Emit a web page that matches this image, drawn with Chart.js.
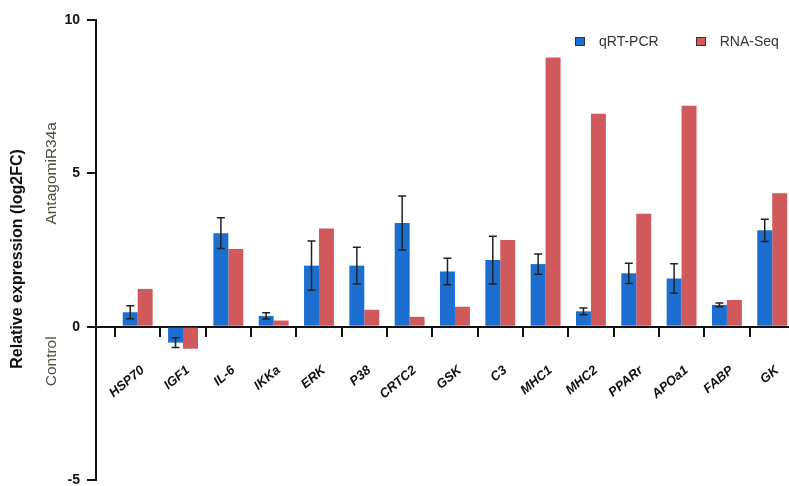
<!DOCTYPE html>
<html>
<head>
<meta charset="utf-8">
<script src="https://cdn.jsdelivr.net/npm/chart.js@4.4.0/dist/chart.umd.min.js"></script>
<style>
  html, body { margin: 0; padding: 0; background: #fff; overflow: hidden; }
  #wrap { position: relative; width: 789px; height: 486px; }
  #legend { position: absolute; top: 33px; left: 575px; display: flex; white-space: nowrap;
            font: 14px 'Liberation Sans', Arial, sans-serif; color: #333; }
  #legend .item { display: flex; align-items: center; margin-right: 37px; }
  #legend .box { width: 8px; height: 7px; border: 1px solid #333; margin-right: 14px; }
</style>
</head>
<body>
<div id="wrap">
  <canvas id="chart"></canvas>
  <div id="legend"></div>
</div>
<script>
var genes = ['HSP70', 'IGF1', 'IL-6', 'IKKa', 'ERK', 'P38', 'CRTC2', 'GSK', 'C3', 'MHC1', 'MHC2', 'PPARr', 'APOa1', 'FABP', 'GK'];
var qpcr = [0.47, -0.52, 3.05, 0.35, 1.99, 1.99, 3.38, 1.80, 2.17, 2.04, 0.50, 1.74, 1.57, 0.71, 3.14];
var qpcrErr = [0.21, 0.16, 0.50, 0.10, 0.80, 0.60, 0.88, 0.43, 0.78, 0.33, 0.11, 0.33, 0.48, 0.06, 0.36];
var rnaSeq = [1.23, -0.72, 2.53, 0.20, 3.20, 0.55, 0.32, 0.65, 2.83, 8.78, 6.94, 3.68, 7.20, 0.87, 4.35];
var yTicks = [-5, 0, 5, 10];

var FONT = "'Liberation Sans', Arial, sans-serif";

// error bars for the qRT-PCR series
var errorBars = {
    id: 'errorBars',
    afterDatasetsDraw: function (chart) {
        var ctx = chart.ctx;
        var y = chart.scales.y;
        var meta = chart.getDatasetMeta(0);
        ctx.save();
        ctx.strokeStyle = '#222';
        ctx.lineWidth = 1.5;
        meta.data.forEach(function (bar, i) {
            var top = y.getPixelForValue(qpcr[i] + qpcrErr[i]);
            var bottom = y.getPixelForValue(qpcr[i] - qpcrErr[i]);
            ctx.beginPath();
            ctx.moveTo(bar.x, top); ctx.lineTo(bar.x, bottom);
            ctx.moveTo(bar.x - 4, top); ctx.lineTo(bar.x + 4, top);
            ctx.moveTo(bar.x - 4, bottom); ctx.lineTo(bar.x + 4, bottom);
            ctx.stroke();
        });
        ctx.restore();
    }
};

// group notes beside the y axis
var sideNotes = {
    id: 'sideNotes',
    afterDraw: function (chart) {
        var ctx = chart.ctx;
        var y = chart.scales.y;
        var notes = [['AntagomiR34a', 5.0], ['Control', -1.13]];
        ctx.save();
        ctx.fillStyle = '#4b5140';
        ctx.font = '15.5px ' + FONT;
        ctx.textAlign = 'center';
        ctx.textBaseline = 'middle';
        notes.forEach(function (n) {
            ctx.save();
            ctx.translate(y.left + 52, y.getPixelForValue(n[1]));
            ctx.rotate(-Math.PI / 2);
            ctx.fillText(n[0], 0, 0);
            ctx.restore();
        });
        ctx.restore();
    }
};

var ctx = document.getElementById('chart').getContext('2d');
var chart = new Chart(ctx, {
    type: 'bar',
    data: {
        datasets: [{
            label: 'qRT-PCR',
            data: qpcr.map(function (v, i) { return { x: i, y: v }; }),
            backgroundColor: '#1c6fd0',
            xAxisID: 'x'
        }, {
            label: 'RNA-Seq',
            data: rnaSeq.map(function (v, i) { return { x: i, y: v }; }),
            backgroundColor: '#d05a5b',
            xAxisID: 'x'
        }]
    },
    options: {
        responsive: true,
        maintainAspectRatio: false,
        animation: false,
        categoryPercentage: 0.66,
        barPercentage: 1,
        layout: { padding: { top: 20, bottom: 6, left: 0, right: 0 } },
        plugins: {
            legend: { display: false },
            tooltip: { enabled: false }
        },
        scales: {
            x: {
                type: 'linear',
                position: { y: 0 },
                offset: false,
                min: -0.92,
                max: 14.37,
                afterBuildTicks: function (scale) {
                    scale.ticks = genes.map(function (g, i) { return { value: i - 0.5 }; });
                },
                afterFit: function (scale) { scale.paddingLeft = 0; scale.paddingRight = 0; },
                ticks: { autoSkip: false, callback: function () { return ''; } },
                grid: { offset: false, drawOnChartArea: false, drawTicks: true, tickLength: 9, color: '#111', lineWidth: 2 },
                border: { color: '#111', width: 2 }
            },
            xl: {
                type: 'linear',
                axis: 'x',
                position: { y: 0 },
                offset: false,
                min: -0.92,
                max: 14.37,
                afterBuildTicks: function (scale) {
                    scale.ticks = genes.map(function (g, i) { return { value: i }; });
                },
                afterFit: function (scale) { scale.paddingLeft = 0; scale.paddingRight = 0; },
                ticks: {
                    autoSkip: false,
                    minRotation: 40,
                    maxRotation: 40,
                    padding: 28,
                    labelOffset: 5,
                    color: '#111',
                    font: { family: FONT, size: 13, weight: 'bold', style: 'italic' },
                    callback: function (value, index) { return genes[index]; }
                },
                grid: { display: false, offset: false },
                border: { display: false }
            },
            y: {
                min: -5,
                max: 10,
                afterBuildTicks: function (scale) {
                    scale.ticks = yTicks.map(function (v) { return { value: v }; });
                },
                afterFit: function (scale) { scale.width = 96; scale.paddingTop = 0; scale.paddingBottom = 0; },
                ticks: {
                    padding: 7,
                    color: '#111',
                    font: { family: FONT, size: 14, weight: 'bold' }
                },
                grid: { drawOnChartArea: false, drawTicks: true, tickLength: 9, color: '#111', lineWidth: 2 },
                border: { color: '#111', width: 2 },
                title: {
                    display: true,
                    text: 'Relative expression (log2FC)    ',
                    color: '#111',
                    padding: { top: 8 },
                    font: { family: FONT, size: 16, weight: 'bold' }
                }
            }
        }
    },
    plugins: [errorBars, sideNotes]
});

// legend as html, built from the chart's own legend items
var legendEl = document.getElementById('legend');
Chart.defaults.plugins.legend.labels.generateLabels(chart).forEach(function (item) {
    var el = document.createElement('div');
    el.className = 'item';
    var box = document.createElement('span');
    box.className = 'box';
    box.style.background = item.fillStyle;
    var txt = document.createElement('span');
    txt.textContent = item.text;
    el.appendChild(box);
    el.appendChild(txt);
    legendEl.appendChild(el);
});
</script>
</body>
</html>
